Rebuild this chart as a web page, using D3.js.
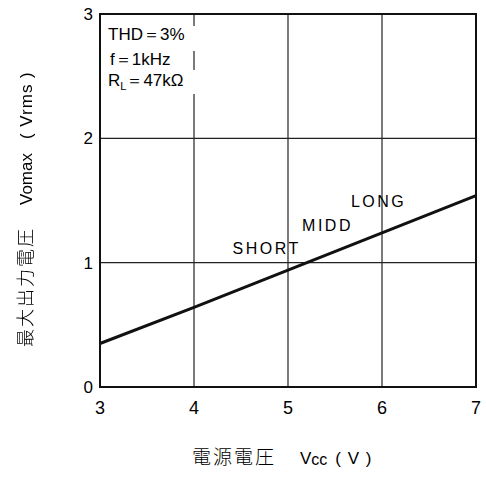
<!DOCTYPE html>
<html>
<head>
<meta charset="utf-8">
<script src="https://cdn.jsdelivr.net/npm/d3@7"></script>
<style>
body { margin: 0; background: #fff; }
text, tspan { font-family: "Liberation Sans", Arial, sans-serif; fill: #000; }
.cjk { font-family: "Noto Sans CJK JP", sans-serif; fill: #000; font-weight: 300; }
</style>
</head>
<body>
<div id="chart"></div>
<script>
// supply voltage (V) vs max output voltage (Vrms)
var vcc = [3, 4, 5, 6, 7];
var vomax = [0.35, 0.64, 0.94, 1.24, 1.54];
var xTicks = [3, 4, 5, 6, 7];
var yTicks = [0, 1, 2, 3];
var modeLabels = ["SHORT", "MIDD", "LONG"];
var modeAt = [4.41, 5.15, 5.67]; // x value where each label starts

var svg = d3.select('#chart').append('svg')
	.attr('width', 486)
	.attr('height', 484);

var x = d3.scaleLinear().domain([3, 7]).range([100, 476]);
var y = d3.scaleLinear().domain([0, 3]).range([387, 14]);

// grid
svg.selectAll('.vgrid')
	.data(xTicks.slice(1, -1))
	.enter().append('line')
	.attr('x1', d => x(d)).attr('x2', d => x(d))
	.attr('y1', y(3)).attr('y2', y(0))
	.style('stroke', '#222').style('stroke-width', 1.2);

svg.selectAll('.hgrid')
	.data(yTicks.slice(1, -1))
	.enter().append('line')
	.attr('x1', x(3)).attr('x2', x(7))
	.attr('y1', d => y(d)).attr('y2', d => y(d))
	.style('stroke', '#222').style('stroke-width', 1.2);

// frame
svg.append('rect')
	.attr('x', x(3)).attr('y', y(3))
	.attr('width', x(7) - x(3)).attr('height', y(0) - y(3))
	.style('fill', 'none').style('stroke', '#111').style('stroke-width', 2);

// conditions box
svg.append('rect')
	.attr('x', x(3) + 4).attr('y', 26)
	.attr('width', 100).attr('height', 68)
	.style('fill', '#fff');
svg.append('line')
	.attr('x1', x(4)).attr('x2', x(4)).attr('y1', 51).attr('y2', 70)
	.style('stroke', '#222').style('stroke-width', 1.2);

var cond = svg.append('g').style('font-size', '17px');
cond.append('text').attr('x', 108).attr('y', 40).text('THD＝3%');
cond.append('text').attr('x', 110).attr('y', 65).text('f＝1kHz');
var rl = cond.append('text').attr('x', 108).attr('y', 86);
rl.append('tspan').text('R');
rl.append('tspan').attr('dy', 4).style('font-size', '11px').text('L');
rl.append('tspan').attr('dy', -4).text('＝47kΩ');

// curve
svg.append('path')
	.datum(vcc.map((d, i) => [d, vomax[i]]))
	.attr('d', d3.line().x(d => x(d[0])).y(d => y(d[1])))
	.style('fill', 'none').style('stroke', '#111').style('stroke-width', 3);

// SHORT / MIDD / LONG
svg.selectAll('.mode')
	.data(modeLabels)
	.enter().append('text')
	.attr('x', (d, i) => x(modeAt[i]))
	.attr('y', (d, i) => [254, 231, 207][i])
	.style('font-size', '16px')
	.style('letter-spacing', '2.5px')
	.text(d => d);

// tick labels
svg.selectAll('.xt')
	.data(xTicks)
	.enter().append('text')
	.attr('x', d => x(d)).attr('y', 414)
	.attr('text-anchor', 'middle')
	.style('font-size', '18px')
	.text(d => d);

svg.selectAll('.yt')
	.data(yTicks)
	.enter().append('text')
	.attr('x', 93).attr('y', d => y(d) + 6)
	.attr('text-anchor', 'end')
	.style('font-size', '17px')
	.text(d => d);

// axis titles
var xt = svg.append('text')
	.attr('x', 192).attr('y', 464)
	.style('font-size', '17px');
xt.append('tspan').attr('class', 'cjk').style('font-size', '19px').style('letter-spacing', '2px').text('電源電圧');
xt.append('tspan').attr('dx', 24).text('V');
xt.append('tspan').attr('dy', 1).style('font-size', '16px').text('cc');
xt.append('tspan').attr('dy', -1).attr('dx', 8).style('letter-spacing', '1px').text('( V )');

var yt = svg.append('text')
	.attr('transform', 'translate(32,347) rotate(-90)')
	.style('font-size', '17px')
	.style('filter', 'grayscale(1)');
yt.append('tspan').attr('class', 'cjk').style('font-size', '18px').style('letter-spacing', '2px').text('最大出力電圧');
yt.append('tspan').attr('dx', 22).text('Vomax');
yt.append('tspan').attr('dx', 14).style('letter-spacing', '1px').text('( Vrms )');
</script>
</body>
</html>
